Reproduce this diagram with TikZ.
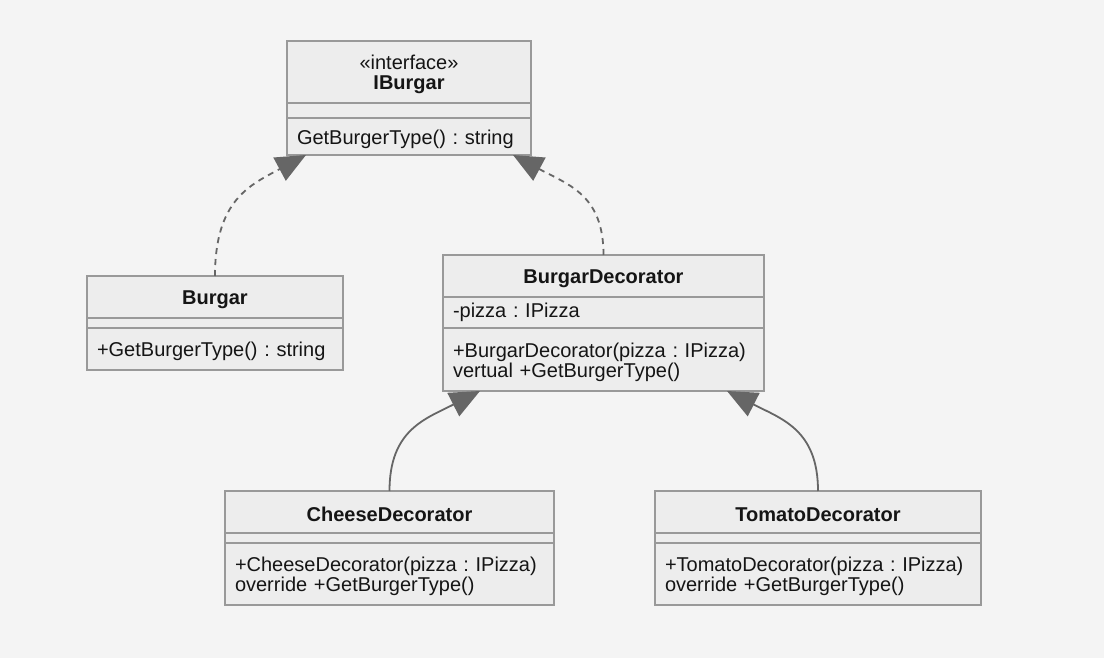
\documentclass[tikz,border=0pt]{standalone}
\usepackage{fontspec}
\setmainfont{Liberation Sans}
\usepackage{xcolor}
\usetikzlibrary{positioning,arrows.meta}
\frenchspacing
\definecolor{bgcol}{HTML}{F4F4F4}
\definecolor{boxcol}{HTML}{EDEDED}
\definecolor{bordercol}{HTML}{999999}
\definecolor{edgecol}{HTML}{666666}
\definecolor{textcol}{HTML}{151515}
\newcommand\classstrut{\rule{0pt}{20pt}}
\tikzset{
  classhead/.style={draw=bordercol,fill=boxcol,line width=1.6pt,outer sep=0pt,inner sep=0pt,align=center,text=textcol,font=\fontsize{20}{20}\selectfont},
  classpart/.style={draw=bordercol,fill=boxcol,line width=1.6pt,outer sep=0pt,inner xsep=10pt,inner ysep=0pt,align=left,text=textcol,font=\fontsize{20}{20}\selectfont},
  realizes/.style={draw=edgecol,line width=1.8pt,dash pattern=on 6pt off 5pt,-{Triangle[length=30pt,width=26pt,fill=edgecol]}},
  inherits/.style={draw=edgecol,line width=1.8pt,-{Triangle[length=30pt,width=26pt,fill=edgecol]}}
}
\begin{document}
\begin{tikzpicture}[x=1pt,y=-1pt]
  \fill[bgcol] (0,0) rectangle (1104,658);
  % interface
  \node[classhead,minimum width=244pt,minimum height=62pt,anchor=north west] (iburgar) at (287,41) {\classstrut«interface»\\\textbf{IBurgar}};
  \node[classpart,minimum width=244pt,minimum height=15pt,below right=0pt and 0pt of iburgar.south west] (iburgara) {};
  \node[classpart,text width=224pt,minimum height=37pt,below right=0pt and 0pt of iburgara.south west] (iburgarm) {\classstrut GetBurgerType() : string};
  % concrete burger
  \node[classhead,minimum width=256pt,minimum height=42pt,anchor=north west] (burgar) at (87,276) {\classstrut\textbf{Burgar}};
  \node[classpart,minimum width=256pt,minimum height=10pt,below right=0pt and 0pt of burgar.south west] (burgara) {};
  \node[classpart,text width=236pt,minimum height=42pt,below right=0pt and 0pt of burgara.south west] (burgarm) {\classstrut+GetBurgerType() : string};
  % decorator
  \node[classhead,minimum width=321pt,minimum height=42pt,anchor=north west] (bd) at (443,255) {\classstrut\textbf{BurgarDecorator}};
  \node[classpart,text width=301pt,minimum height=31pt,below right=0pt and 0pt of bd.south west] (bda) {-pizza : IPizza};
  \node[classpart,text width=301pt,minimum height=63pt,below right=0pt and 0pt of bda.south west] (bdm) {\classstrut+BurgarDecorator(pizza : IPizza)\\vertual +GetBurgerType()};
  % cheese
  \node[classhead,minimum width=329pt,minimum height=42pt,anchor=north west] (cheese) at (225,491) {\classstrut\textbf{CheeseDecorator}};
  \node[classpart,minimum width=329pt,minimum height=10pt,below right=0pt and 0pt of cheese.south west] (cheesea) {};
  \node[classpart,text width=309pt,minimum height=62pt,below right=0pt and 0pt of cheesea.south west] (cheesem) {\classstrut+CheeseDecorator(pizza : IPizza)\\override +GetBurgerType()};
  % tomato
  \node[classhead,minimum width=326pt,minimum height=42pt,anchor=north west] (tomato) at (655,491) {\classstrut\textbf{TomatoDecorator}};
  \node[classpart,minimum width=326pt,minimum height=10pt,below right=0pt and 0pt of tomato.south west] (tomatoa) {};
  \node[classpart,text width=306pt,minimum height=62pt,below right=0pt and 0pt of tomatoa.south west] (tomatom) {\classstrut+TomatoDecorator(pizza : IPizza)\\override +GetBurgerType()};
  % connectors
  \draw[realizes] (burgar.north) .. controls +(0,-76) and +(-56,30) .. ([xshift=19pt]iburgarm.south west);
  \draw[realizes] (bd.north) .. controls +(0,-60) and +(56,30) .. ([xshift=-18pt]iburgarm.south east);
  \draw[inherits] (cheese.north) .. controls +(0,-61) and +(-55,28) .. ([xshift=37pt]bdm.south west);
  \draw[inherits] (tomato.north) .. controls +(0,-61) and +(55,28) .. ([xshift=-37pt]bdm.south east);
\end{tikzpicture}
\end{document}
